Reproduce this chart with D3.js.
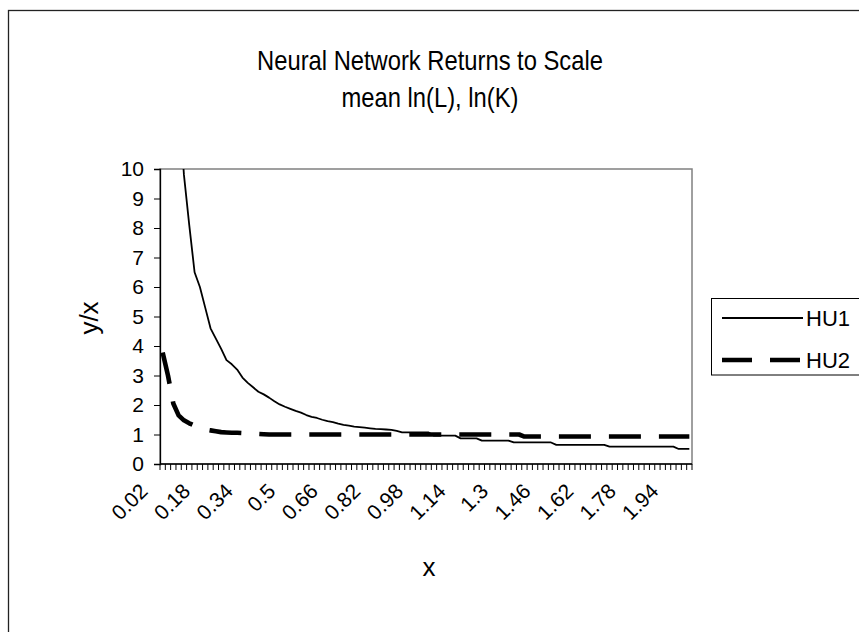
<!DOCTYPE html>
<html>
<head>
<meta charset="utf-8">
<script src="https://cdn.jsdelivr.net/npm/d3@7/dist/d3.min.js"></script>
<style>
  html, body { margin: 0; padding: 0; background: #fff; }
  svg { display: block; font-family: "Liberation Sans", Arial, sans-serif; }
</style>
</head>
<body>
<svg id="chart" width="859" height="632"></svg>
<script>
// ---- Data ----
const categories = [
  "0.02","0.04","0.06","0.08","0.1","0.12","0.14","0.16","0.18","0.2",
  "0.22","0.24","0.26","0.28","0.3","0.32","0.34","0.36","0.38","0.4",
  "0.42","0.44","0.46","0.48","0.5","0.52","0.54","0.56","0.58","0.6",
  "0.62","0.64","0.66","0.68","0.7","0.72","0.74","0.76","0.78","0.8",
  "0.82","0.84","0.86","0.88","0.9","0.92","0.94","0.96","0.98","1",
  "1.02","1.04","1.06","1.08","1.1","1.12","1.14","1.16","1.18","1.2",
  "1.22","1.24","1.26","1.28","1.3","1.32","1.34","1.36","1.38","1.4",
  "1.42","1.44","1.46","1.48","1.5","1.52","1.54","1.56","1.58","1.6",
  "1.62","1.64","1.66","1.68","1.7","1.72","1.74","1.76","1.78","1.8",
  "1.82","1.84","1.86","1.88","1.9","1.92","1.94","1.96","1.98","2"
];
const xTickLabels = ["0.02","0.18","0.34","0.5","0.66","0.82","0.98","1.14","1.3","1.46","1.62","1.78","1.94"];
const yTicks = [0,1,2,3,4,5,6,7,8,9,10];

const hu1 = [
  47.5, 23.8, 15.9, 12.5, 9.8, 8.1, 6.5, 6.0, 5.3, 4.6,
  4.25, 3.9, 3.52, 3.38, 3.2, 2.93, 2.75, 2.6, 2.45, 2.36,
  2.25, 2.13, 2.02, 1.94, 1.87, 1.8, 1.74, 1.66, 1.6, 1.56,
  1.5, 1.45, 1.42, 1.37, 1.33, 1.3, 1.27, 1.25, 1.23, 1.21,
  1.19, 1.18, 1.17, 1.16, 1.12, 1.07, 1.07, 1.07, 1.07, 1.07,
  1.07, 0.96, 0.96, 0.96, 0.96, 0.96, 0.87, 0.87, 0.87, 0.87,
  0.79, 0.79, 0.79, 0.79, 0.79, 0.79, 0.73, 0.73, 0.73, 0.73,
  0.73, 0.73, 0.73, 0.73, 0.65, 0.65, 0.65, 0.65, 0.65, 0.65,
  0.65, 0.65, 0.65, 0.65, 0.59, 0.59, 0.59, 0.59, 0.59, 0.59,
  0.59, 0.59, 0.59, 0.59, 0.59, 0.59, 0.59, 0.51, 0.51, 0.51
];
const hu2 = [
  3.78, 3.0, 2.05, 1.65, 1.48, 1.38, 1.3, 1.22, 1.17, 1.14,
  1.11, 1.08, 1.07, 1.06, 1.06, 1.05, 1.04, 1.03, 1.02, 1.01,
  1.0, 1.0, 1.0, 1.0, 1.0, 1.0, 1.0, 1.0, 1.0, 1.0,
  1.0, 1.0, 1.0, 1.0, 1.0, 1.0, 1.0, 1.0, 1.0, 1.0,
  1.0, 1.0, 1.0, 1.0, 1.0, 1.0, 1.0, 1.0, 1.0, 1.0,
  1.0, 1.0, 1.0, 1.0, 1.0, 1.0, 1.0, 1.0, 1.0, 1.0,
  1.0, 1.0, 1.0, 1.0, 1.0, 1.0, 1.0, 1.0, 0.93, 0.93,
  0.93, 0.93, 0.93, 0.93, 0.93, 0.93, 0.93, 0.93, 0.93, 0.93,
  0.93, 0.93, 0.93, 0.93, 0.93, 0.93, 0.93, 0.93, 0.93, 0.93,
  0.93, 0.93, 0.93, 0.93, 0.93, 0.93, 0.93, 0.93, 0.93, 0.93
];
const seriesNames = ["HU1", "HU2"];
const titleLines = ["Neural Network Returns to Scale", "mean ln(L), ln(K)"];

// ---- Layout ----
const W = 859, H = 632;
const plot = { left: 160, right: 692, top: 169, bottom: 464 };

const svg = d3.select("#chart");
svg.append("rect").attr("x", 0).attr("y", 0).attr("width", W).attr("height", H).attr("fill", "#fff");

// outer chart border (extends past the visible area)
svg.append("rect")
  .attr("x", 8.5).attr("y", 10.5).attr("width", 900).attr("height", 700)
  .attr("fill", "none").attr("stroke", "#222").attr("stroke-width", 1.3);

const x = d3.scaleBand().domain(categories).range([plot.left, plot.right]).padding(0);
const y = d3.scaleLinear().domain([0, 10]).range([plot.bottom, plot.top]);
const cx = c => x(c) + x.bandwidth() / 2;

// plot area frame (grey)
svg.append("rect")
  .attr("x", plot.left).attr("y", plot.top)
  .attr("width", plot.right - plot.left).attr("height", plot.bottom - plot.top)
  .attr("fill", "#fff").attr("stroke", "#808080").attr("stroke-width", 1.5);

svg.append("clipPath").attr("id", "clip").append("rect")
  .attr("x", plot.left).attr("y", plot.top)
  .attr("width", plot.right - plot.left).attr("height", plot.bottom - plot.top);

// Titles (slightly condensed, as in the source)
titleLines.forEach((t, i) => {
  svg.append("text").attr("text-anchor", "middle").attr("font-size", 27)
    .attr("transform", `translate(430,${70 + i * 37}) scale(0.88,1)`).text(t);
});

// Y axis
const yAxis = d3.axisLeft(y).tickValues(yTicks).tickSize(6).tickPadding(10).tickFormat(d3.format("d"));
const gy = svg.append("g").attr("transform", `translate(${plot.left},0)`).call(yAxis);
gy.select(".domain").attr("stroke", "#000").attr("stroke-width", 1.3);
gy.selectAll(".tick line").attr("stroke", "#000");
gy.selectAll(".tick text").attr("font-size", 21).attr("fill", "#000")
  .attr("font-family", "Liberation Sans, Arial, sans-serif");

// X axis: ticks at category boundaries
const boundaries = categories.map(c => x(c)).concat([plot.right]);
const gx = svg.append("g");
gx.append("line").attr("x1", plot.left).attr("x2", plot.right)
  .attr("y1", plot.bottom).attr("y2", plot.bottom).attr("stroke", "#000").attr("stroke-width", 1.3);
gx.selectAll("line.tk").data(boundaries).enter().append("line").attr("class", "tk")
  .attr("x1", d => d).attr("x2", d => d)
  .attr("y1", plot.bottom).attr("y2", plot.bottom + 6)
  .attr("stroke", "#000").attr("stroke-width", 1);
gx.selectAll("text.xl").data(xTickLabels).enter().append("text").attr("class", "xl")
  .attr("text-anchor", "end").attr("font-size", 21)
  .attr("transform", d => `translate(${cx(d) - 24},${plot.bottom + 18}) rotate(-45)`)
  .attr("dy", "0.7em")
  .text(d => d);

// Axis titles
svg.append("text").attr("text-anchor", "middle").attr("font-size", 26)
  .attr("transform", `translate(98,318) rotate(-90)`).text("y/x");
svg.append("text").attr("x", 429).attr("y", 576).attr("text-anchor", "middle")
  .attr("font-size", 26).text("x");

// Lines
const line = d3.line().x((d, i) => cx(categories[i])).y(d => y(d));
const lines = svg.append("g").attr("clip-path", "url(#clip)");
lines.append("path").datum(hu1).attr("d", line)
  .attr("fill", "none").attr("stroke", "#000").attr("stroke-width", 1.8).attr("stroke-linejoin", "round");
lines.append("path").datum(hu2).attr("d", line)
  .attr("fill", "none").attr("stroke", "#000").attr("stroke-width", 4.6)
  .attr("stroke-dasharray", "32,18").attr("stroke-linejoin", "round");

// Legend
const lg = svg.append("g");
lg.append("rect").attr("x", 711.5).attr("y", 298.5).attr("width", 170).attr("height", 76.5)
  .attr("fill", "#fff").attr("stroke", "#000").attr("stroke-width", 1);
const legendRows = [
  { name: seriesNames[0], y: 318, w: 1.8, dash: null },
  { name: seriesNames[1], y: 360, w: 4.6, dash: "30,18" }
];
legendRows.forEach(r => {
  const l = lg.append("line").attr("x1", 722).attr("x2", 803).attr("y1", r.y).attr("y2", r.y)
    .attr("stroke", "#000").attr("stroke-width", r.w);
  if (r.dash) l.attr("stroke-dasharray", r.dash);
  lg.append("text").attr("x", 806).attr("y", r.y).attr("dy", "0.36em")
    .attr("font-size", 22).text(r.name);
});
</script>
</body>
</html>
